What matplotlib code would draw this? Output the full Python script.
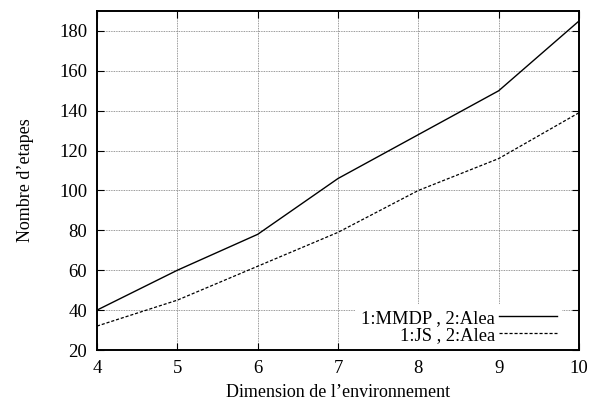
import matplotlib.pyplot as plt

plt.rcParams['font.family'] = ['Liberation Serif', 'DejaVu Serif']

dims = [4, 5, 6, 7, 8, 9, 10]
mmdp_alea = [40, 60, 78, 106, 128, 150, 185]
js_alea = [32, 45, 62, 79, 100, 116, 139]

fig = plt.figure(figsize=(5.91, 4.05), dpi=100)
ax = fig.add_axes([0.1641, 0.1358, 0.8156, 0.837])

ax.plot(dims, mmdp_alea, 'k-', linewidth=1.0, label='1:MMDP , 2:Alea')
ax.plot(dims, js_alea, 'k--', linewidth=0.9, dashes=(2.5, 1.5), label='1:JS , 2:Alea')

ax.set_xlim(4, 10)
ax.set_ylim(20, 190)
ax.set_xticks(dims)
ax.set_yticks(range(20, 181, 20))
ax.grid(True, linestyle=(0, (1, 1)), color='#777777', linewidth=0.6)
ax.set_axisbelow(True)
ax.tick_params(direction='in', length=5, width=0.8, top=True, right=True,
               labelsize=13.5, pad=7)
for s in ax.spines.values():
    s.set_linewidth(1.4)

ax.set_xlabel('Dimension de l\u2019environnement', fontsize=13, labelpad=5)
ax.set_ylabel('Nombre d\u2019etapes', fontsize=13, labelpad=18)

leg = ax.legend(loc='lower right', markerfirst=False, fontsize=13.3,
                frameon=True, fancybox=False, framealpha=1,
                handlelength=3.1, handletextpad=0.25, labelspacing=0.0,
                borderaxespad=0.0, borderpad=0.3,
                bbox_to_anchor=(0.965, 0.002))
leg.get_frame().set_edgecolor('none')
leg.get_frame().set_facecolor('white')
leg.set_zorder(2.2)  # keep the frame spines drawn over the key box

fig.savefig('out.png', dpi=100)
